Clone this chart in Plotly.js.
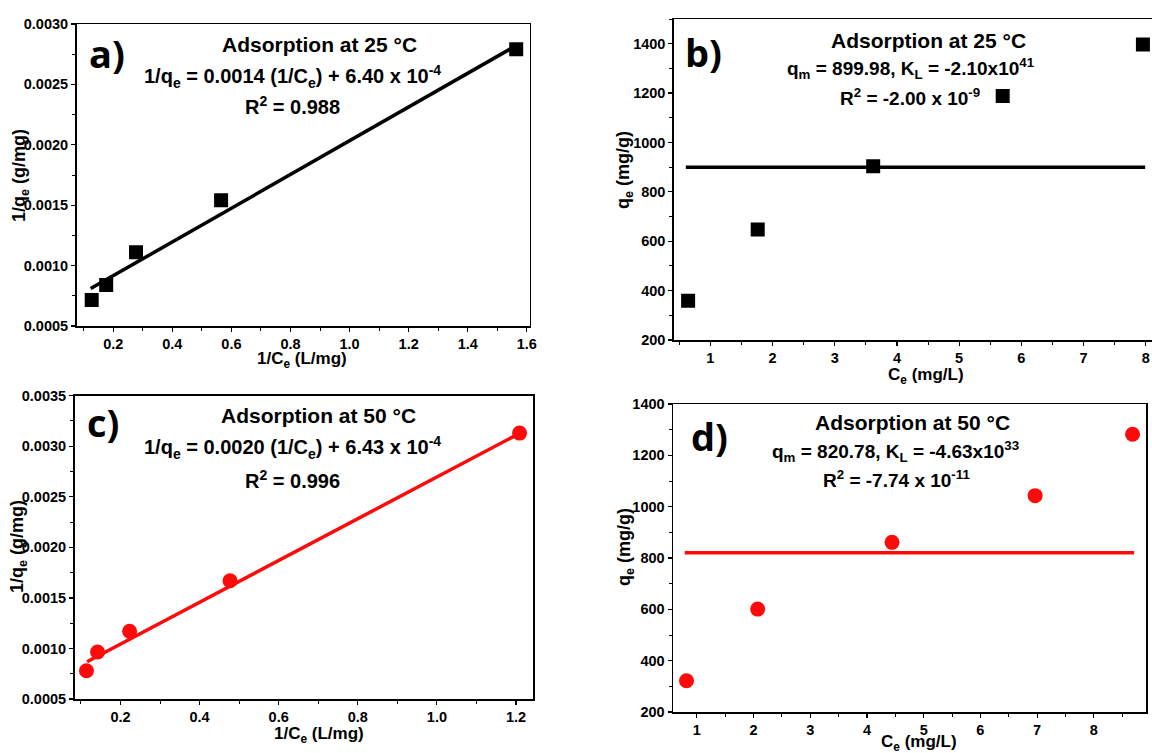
<!DOCTYPE html>
<html>
<head>
<meta charset="utf-8">
<script src="https://cdn.plot.ly/plotly-3.0.1.min.js"></script>
<style>html,body{margin:0;padding:0;background:#fff;}#chart{width:1152px;height:753px;}</style>
</head>
<body>
<div id="chart"></div>
<script>
// ---- Data ----
// a) Linearised Langmuir, 25 °C
const a_invCe = [0.127, 0.176, 0.277, 0.565, 1.564];
const a_invQe = [0.000715, 0.00084, 0.00111, 0.00154, 0.00279];
const a_fitX = [0.1235, 1.563];
const a_fitY = [0.00081, 0.00282];
// b) Langmuir, 25 °C
const b_Ce = [0.643, 1.762, 3.618, 5.70, 7.954];
const b_qe = [359, 648, 904, 1188, 1397];
const b_fitX = [0.606, 7.99];
const b_fitY = [899.98, 899.98];
// c) Linearised Langmuir, 50 °C
const c_invCe = [0.114, 0.142, 0.223, 0.477, 1.209];
const c_invQe = [0.00078, 0.000965, 0.00117, 0.00167, 0.00313];
const c_fitX = [0.1155, 1.21];
const c_fitY = [0.000869, 0.00313];
// d) Langmuir, 50 °C
const d_Ce = [0.818, 2.073, 4.442, 6.965, 8.683];
const d_qe = [322, 601, 861, 1043, 1282];
const d_fitX = [0.787, 8.71];
const d_fitY = [820.78, 820.78];

const panelLabels = ['a)', 'b)', 'c)', 'd)'];
const titles = ['Adsorption at 25 °C', 'Adsorption at 25 °C', 'Adsorption at 50 °C', 'Adsorption at 50 °C'];
const equations = [
  '1/q<sub>e</sub> = 0.0014 (1/C<sub>e</sub>) + 6.40 x 10<sup>-4</sup>',
  'q<sub>m</sub> = 899.98, K<sub>L</sub> = -2.10x10<sup>41</sup>',
  '1/q<sub>e</sub> = 0.0020 (1/C<sub>e</sub>) + 6.43 x 10<sup>-4</sup>',
  'q<sub>m</sub> = 820.78, K<sub>L</sub> = -4.63x10<sup>33</sup>'
];
const r2Texts = [
  'R<sup>2</sup> = 0.988',
  'R<sup>2</sup> = -2.00 x 10<sup>-9</sup>',
  'R<sup>2</sup> = 0.996',
  'R<sup>2</sup> = -7.74 x 10<sup>-11</sup>'
];
const xTitles = ['1/C<sub>e</sub> (L/mg)', 'C<sub>e</sub> (mg/L)', '1/C<sub>e</sub> (L/mg)', 'C<sub>e</sub> (mg/L)'];
const yTitles = ['1/q<sub>e</sub> (g/mg)', 'q<sub>e</sub> (mg/g)', '1/q<sub>e</sub> (g/mg)', 'q<sub>e</sub> (mg/g)'];

// ---- Traces ----
const RED = '#ff0a0a';
const sq = {symbol: 'square', size: 14, color: '#000'};
const ci = {symbol: 'circle', size: 15, color: RED};
const traces = [
  {x: a_fitX, y: a_fitY, xaxis: 'x', yaxis: 'y', mode: 'lines', line: {color: '#000', width: 3.5}},
  {x: a_invCe, y: a_invQe, xaxis: 'x', yaxis: 'y', mode: 'markers', marker: sq},
  {x: b_fitX, y: b_fitY, xaxis: 'x2', yaxis: 'y2', mode: 'lines', line: {color: '#000', width: 3.5}},
  {x: b_Ce, y: b_qe, xaxis: 'x2', yaxis: 'y2', mode: 'markers', marker: sq},
  {x: c_fitX, y: c_fitY, xaxis: 'x3', yaxis: 'y3', mode: 'lines', line: {color: RED, width: 3.5}},
  {x: c_invCe, y: c_invQe, xaxis: 'x3', yaxis: 'y3', mode: 'markers', marker: ci},
  {x: d_fitX, y: d_fitY, xaxis: 'x4', yaxis: 'y4', mode: 'lines', line: {color: RED, width: 3.5}},
  {x: d_Ce, y: d_qe, xaxis: 'x4', yaxis: 'y4', mode: 'markers', marker: ci}
];

const W = 1152, H = 753;
const FF = 'Liberation Sans, Arial, sans-serif';
const tickFont = {family: FF, size: 14.5, color: '#000', weight: 'bold'};
function ax(opts) {
  return Object.assign({
    showgrid: false, zeroline: false, showline: true, linecolor: '#000', linewidth: 1.5,
    mirror: true, ticks: 'outside', ticklen: 4, tickwidth: 1.2, tickcolor: '#000',
    tickfont: tickFont, fixedrange: true
  }, opts);
}
const minorTicks = (d) => ({dtick: d, tick0: 0, ticks: 'outside', ticklen: 3, tickcolor: '#000', tickwidth: 1});
// pixel boxes -> paper domains
function dx(l, r) { return [l / W, Math.min(r / W, 1)]; }
function dy(t, b) { return [1 - b / H, 1 - t / H]; }

const layout = {
  width: W, height: H,
  margin: {l: 0, r: 0, t: 0, b: 0},
  paper_bgcolor: '#fff', plot_bgcolor: '#fff',
  showlegend: false,
  font: {family: FF, color: '#000'},
  xaxis: ax({domain: dx(76.5, 529.5), anchor: 'y', range: [0.0755, 1.609], dtick: 0.2, tick0: 0, tickformat: '.1f', minor: minorTicks(0.1)}),
  yaxis: ax({domain: dy(24, 326), anchor: 'x', range: [0.0005, 0.0030], dtick: 0.0005, tick0: 0, tickformat: '.4f', minor: minorTicks(0.00025)}),
  xaxis2: ax({domain: dx(673.8, 1152), anchor: 'y2', range: [0.413, 8.10], dtick: 1, tick0: 0, tickformat: 'd', minor: minorTicks(0.5)}),
  yaxis2: ax({domain: dy(19, 340), anchor: 'x2', range: [200, 1500], dtick: 200, tick0: 0, mirror: false, minor: minorTicks(100)}),
  xaxis3: ax({domain: dx(74.5, 533), anchor: 'y3', range: [0.0837, 1.243], dtick: 0.2, tick0: 0, tickformat: '.1f', minor: minorTicks(0.1)}),
  yaxis3: ax({domain: dy(395.7, 699), anchor: 'x3', range: [0.0005, 0.0035], dtick: 0.0005, tick0: 0, tickformat: '.4f', minor: minorTicks(0.00025)}),
  xaxis4: ax({domain: dx(673, 1146), anchor: 'y4', range: [0.58, 8.92], dtick: 1, tick0: 0, tickformat: 'd', minor: minorTicks(0.5)}),
  yaxis4: ax({domain: dy(404, 712), anchor: 'x4', range: [200, 1400], dtick: 200, tick0: 0, minor: minorTicks(100)}),
  annotations: []
};

// annotation helper in pixel coordinates
function A(text, x, y, size, extra) {
  layout.annotations.push(Object.assign({
    text: text, xref: 'paper', yref: 'paper', x: x / W, y: 1 - y / H,
    xanchor: 'center', yanchor: 'middle', showarrow: false,
    font: {family: FF, size: size, color: '#000', weight: 'bold'}
  }, extra || {}));
}

// per-panel text positions (px)
const pos = [
  {lab: [107, 53], t: [319, 45], eq: [292, 76], r2: [292, 106], xt: [302, 360], yt: [20, 176], s: 20},
  {lab: [703, 52], t: [928, 41], eq: [911, 68], r2: [910, 97], xt: [926, 376], yt: [624, 170], s: 19},
  {lab: [103, 422], t: [318, 416], eq: [292, 447], r2: [292, 479], xt: [319, 735], yt: [18, 547], s: 20},
  {lab: [709, 436], t: [912, 423], eq: [895, 451], r2: [896, 479], xt: [919, 743], yt: [625, 547], s: 19}
];
pos.forEach((p, i) => {
  A(panelLabels[i], p.lab[0], p.lab[1], 38, {font: {family: 'Open Sans, Noto Sans, sans-serif', size: 38, color: '#000', weight: 'bold'}});
  A(titles[i], p.t[0], p.t[1], 21);
  A(equations[i], p.eq[0], p.eq[1], p.s);
  A(r2Texts[i], p.r2[0], p.r2[1], p.s);
  A(xTitles[i], p.xt[0], p.xt[1], 17);
  A(yTitles[i], p.yt[0], p.yt[1], 18, {textangle: -90});
});

Plotly.newPlot('chart', traces, layout, {staticPlot: true, displayModeBar: false});
</script>
</body>
</html>
